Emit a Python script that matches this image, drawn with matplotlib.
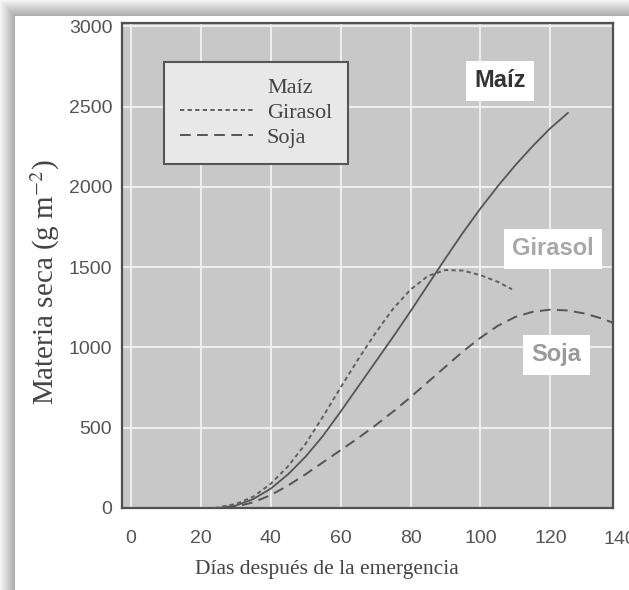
import numpy as np
import matplotlib
matplotlib.use("Agg")
import matplotlib.pyplot as plt
from matplotlib.lines import Line2D

# dry matter accumulation (g m-2) vs days after emergence
maiz_dias = [25, 30, 35, 40, 45, 50, 55, 60, 65, 70, 75, 80, 85, 90, 95, 100, 105, 110, 115, 120, 125]
maiz_ms = [0, 15, 55, 120, 210, 320, 450, 600, 755, 910, 1065, 1225, 1390, 1555, 1715, 1865, 2005, 2135, 2255, 2365, 2460]

girasol_dias = [24, 30, 35, 40, 45, 50, 55, 60, 65, 70, 75, 80, 85, 90, 95, 100, 105, 109]
girasol_ms = [0, 25, 70, 150, 260, 400, 570, 750, 925, 1090, 1240, 1360, 1445, 1482, 1478, 1450, 1408, 1362]

soja_dias = [27, 30, 35, 40, 45, 50, 55, 60, 65, 70, 75, 80, 85, 90, 95, 100, 105, 110, 115, 120, 125, 130, 135, 138]
soja_ms = [0, 8, 35, 80, 140, 210, 285, 360, 435, 515, 600, 690, 785, 880, 975, 1060, 1135, 1190, 1222, 1235, 1230, 1210, 1178, 1152]

x_ticks = [0, 20, 40, 60, 80, 100, 120]
y_ticks = [0, 500, 1000, 1500, 2000, 2500, 3000]

plt.rcParams["mathtext.fontset"] = "stix"

W, H = 629, 590
fig = plt.figure(figsize=(W / 100, H / 100), dpi=100)

# page edge shading on top and left
rows, cols = np.mgrid[0:H, 0:W]
t = np.minimum(rows / 16.0, cols / 15.0)
shade = np.where(t < 1, 0.96 - 0.30 * t, 1.0)
fig.figimage(np.dstack([shade] * 3), xo=0, yo=0, origin="upper", zorder=-5)

ax = fig.add_axes([122 / W, 1 - 508 / H, 491 / W, 485 / H])
ax.set_zorder(2)
ax.set_facecolor("#c8c8c8")
ax.set_xlim(-2.5, 137.9)
ax.set_ylim(0, 3020)

line_col = "#555555"
girasol_ls = (0, (2.2, 1.7))
soja_ls = (0, (5.5, 3.3))
ax.plot(maiz_dias, maiz_ms, color=line_col, lw=1.3, zorder=3)
ax.plot(girasol_dias, girasol_ms, color="#606060", lw=1.4, linestyle=girasol_ls, zorder=3)
ax.plot(soja_dias, soja_ms, color=line_col, lw=1.4, linestyle=soja_ls, zorder=3)

ax.set_xticks(x_ticks)
ax.set_yticks(y_ticks)
ax.grid(True, color="#eeeeee", lw=1.5)
ax.set_axisbelow(True)
for s in ax.spines.values():
    s.set_color("#505050")
    s.set_linewidth(1.6)

tick_font = {"family": "Liberation Sans", "size": 14, "color": "#555555"}
ax.tick_params(length=0, labelcolor="#555555", labelsize=14)
ax.tick_params(axis="x", pad=16)
ax.tick_params(axis="y", pad=7)
for lab in ax.get_xticklabels() + ax.get_yticklabels():
    lab.set_family("Liberation Sans")
ax.text(140, -23 / 485, "140", transform=ax.get_xaxis_transform(), ha="center", va="top",
        clip_on=False, fontdict=tick_font)

serif = "Liberation Serif"
ax.set_xlabel("Días después de la emergencia", family=serif, fontsize=15.5, color="#444444")
ax.xaxis.set_label_coords((327 - 122) / 491, (508 - 560) / 485)
ax.set_ylabel("Materia seca (g m$^{-2}$)", family=serif, fontsize=21, color="#444444", va="center")
ax.yaxis.set_label_coords((45 - 122) / 491, (508 - 282) / 485)

handles = [
    Line2D([], [], linestyle="none"),
    Line2D([], [], color="#606060", lw=1.4, linestyle=girasol_ls),
    Line2D([], [], color=line_col, lw=1.4, linestyle=soja_ls),
]
leg = ax.legend(handles, ["Maíz", "Girasol", "Soja"], loc="upper left",
                bbox_to_anchor=((164 - 122) / 491, (508 - 62) / 485), borderaxespad=0,
                prop={"family": serif, "size": 16}, handlelength=3.3, handletextpad=0.63,
                borderpad=0.7, labelspacing=0.2, fancybox=False, framealpha=1)
leg.get_frame().set_facecolor("#e8e8e8")
leg.get_frame().set_edgecolor("#555555")
leg.get_frame().set_linewidth(1.5)
for txt in leg.get_texts():
    txt.set_color("#444444")

box = dict(boxstyle="square,pad=0.35", facecolor="white", edgecolor="none")
ax.text(105.5, 2660, "Maíz", family="Liberation Sans", weight="bold", fontsize=17,
        color="#333333", ha="center", va="center", bbox=box, zorder=4)
ax.text(120.8, 1613, "Girasol", family="Liberation Sans", weight="bold", fontsize=17,
        color="#a8a8a8", ha="center", va="center", bbox=box, zorder=4)
ax.text(121.7, 953, "Soja", family="Liberation Sans", weight="bold", fontsize=17,
        color="#9a9a9a", ha="center", va="center", bbox=box, zorder=4)

fig.savefig("out.png", dpi=100)
